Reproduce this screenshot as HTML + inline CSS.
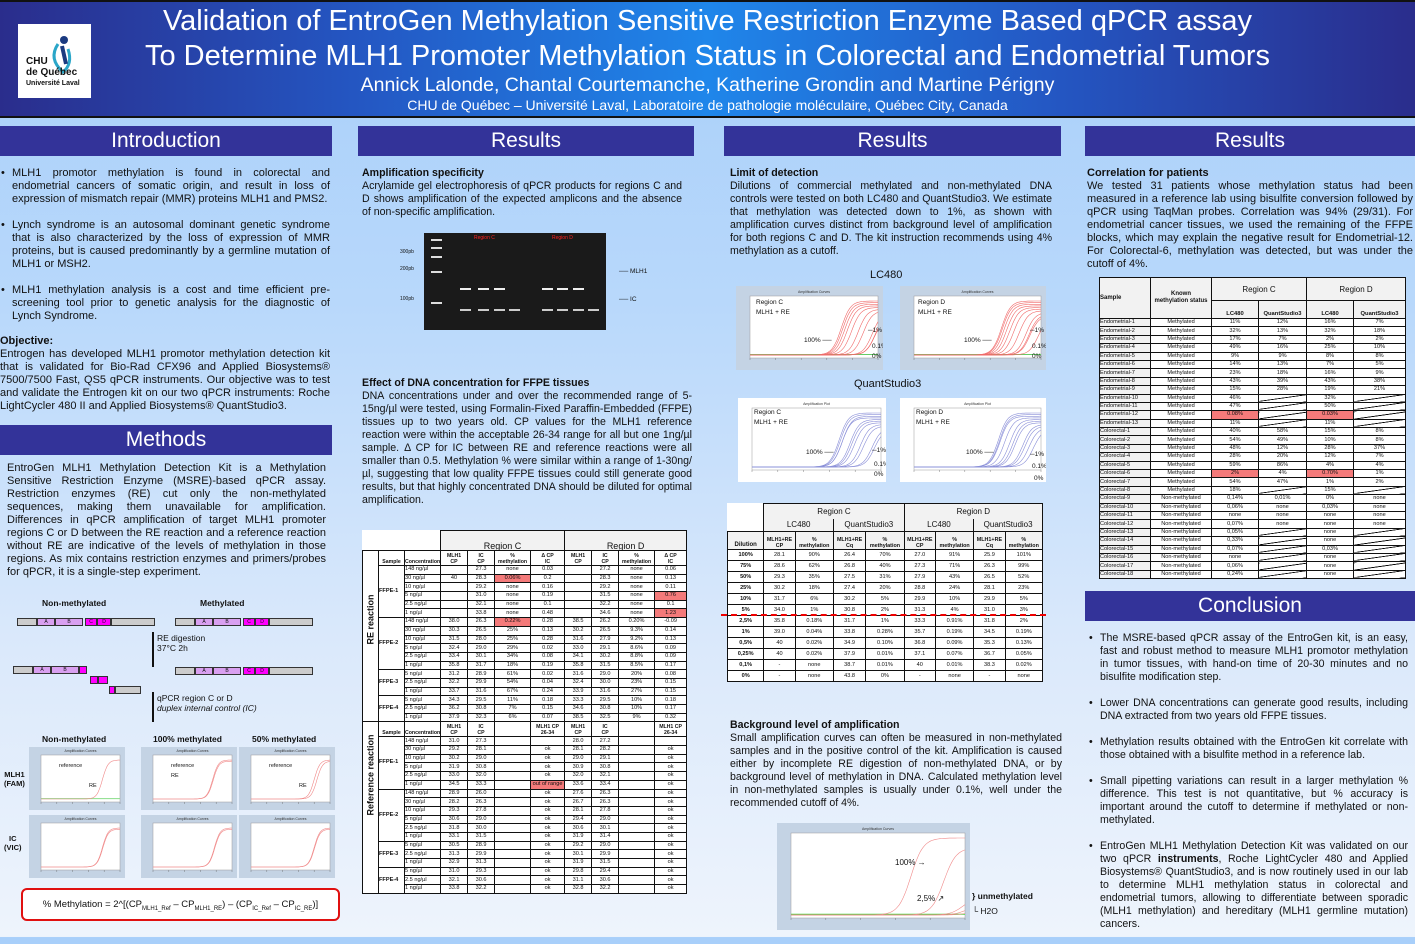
<!DOCTYPE html>
<html><head><meta charset="utf-8">
<style>
*{box-sizing:border-box;margin:0;padding:0}
body{width:1415px;height:937px;overflow:hidden;position:relative;font-family:"Liberation Sans",Arial,sans-serif;background:linear-gradient(180deg,#a8cffa 0px,#b8d8fb 300px,#dbe9fb 650px,#eef4fc 937px);color:#111}
.abs{position:absolute}
#header{left:0;top:0;width:1415px;height:118px;background:linear-gradient(90deg,#2a2d8c 0%,#2456c2 25%,#1f86ea 50%,#2456c2 75%,#2a2d8c 100%);border-bottom:2px solid #111;border-top:2px solid #111}
.ht{position:absolute;left:100px;width:1215px;text-align:center;color:#fff;white-space:nowrap}
.sec{position:absolute;height:30px;background:#333399;color:#fff;font-size:21px;text-align:center;line-height:30px}
.txt{position:absolute;font-size:10.6px;line-height:13px;text-align:justify;color:#111}
.txt p{margin:0}
.bul{position:relative;padding-left:12px;margin-bottom:13px!important}
.bul::before{content:"•";position:absolute;left:1px;top:0}
table{border-collapse:collapse;table-layout:fixed;background:#fff}
td{border:1px solid #111;font-size:5.6px;text-align:center;padding:0;overflow:hidden;white-space:nowrap;line-height:7px}
.red{background:#f47a7a}
.diag{background:linear-gradient(172deg,#fff 46%,#000 48%,#000 52%,#fff 54%)}
.lft{text-align:left}
.frame{position:absolute;background:#c4d3e4}
</style></head><body>

<div id="header" class="abs">
  <div class="abs" style="left:18px;top:22px;width:73px;height:74px;background:#fff">
    <svg width="73" height="74"><path d="M40 20 Q30 35 45 48 Q55 40 50 25" fill="none" stroke="#2aa6c8" stroke-width="3"/><circle cx="46" cy="16" r="4" fill="#1a3a80"/><path d="M44 22 L48 40" stroke="#1a3a80" stroke-width="4"/></svg>
    <div class="abs" style="left:8px;top:32px;font-size:10px;font-weight:bold;line-height:11px;color:#111">CHU<br>de Québec</div>
    <div class="abs" style="left:8px;top:56px;font-size:7px;font-weight:bold;color:#111">Université Laval</div>
  </div>
  <div class="ht" style="top:3px;font-size:29px">Validation of EntroGen Methylation Sensitive Restriction Enzyme Based qPCR assay</div>
  <div class="ht" style="top:38px;font-size:29px">To Determine MLH1 Promoter Methylation Status in Colorectal and Endometrial Tumors</div>
  <div class="ht" style="top:72px;font-size:19.5px">Annick Lalonde, Chantal Courtemanche, Katherine Grondin and Martine Périgny</div>
  <div class="ht" style="top:95px;font-size:14px">CHU de Québec – Université Laval, Laboratoire de pathologie moléculaire, Québec City, Canada</div>
</div>

<!-- Column 1 -->
<div class="sec" style="left:0;top:126px;width:332px">Introduction</div>
<div class="txt" style="left:0;top:167px;width:330px;font-size:11px">
<p class="bul">MLH1 promotor methylation is found in colorectal and endometrial cancers of somatic origin, and result in loss of expression of mismatch repair (MMR) proteins MLH1 and PMS2.</p>
<p class="bul">Lynch syndrome is an autosomal dominant genetic syndrome that is also characterized by the loss of expression of MMR proteins, but is caused predominantly by a germline mutation of MLH1 or MSH2.</p>
<p class="bul">MLH1 methylation analysis is a cost and time efficient pre-screening tool prior to genetic analysis for the diagnostic of Lynch Syndrome.</p>
<p style="font-weight:bold;margin-top:-1px">Objective:</p>
<p>Entrogen has developed MLH1 promotor methylation detection kit that is validated for Bio-Rad CFX96 and Applied Biosystems® 7500/7500 Fast, QS5 qPCR instruments. Our objective was to test and validate the Entrogen kit on our two qPCR instruments: Roche LightCycler 480 II and Applied Biosystems® QuantStudio3.</p>
</div>
<div class="sec" style="left:0;top:425px;width:332px">Methods</div>
<div class="txt" style="left:7px;top:462px;width:319px;font-size:11px">EntroGen MLH1 Methylation Detection Kit is a Methylation Sensitive Restriction Enzyme (MSRE)-based qPCR assay. Restriction enzymes (RE) cut only the non-methylated sequences, making them unavailable for amplification. Differences in qPCR amplification of target MLH1 promoter regions C or D between the RE reaction and a reference reaction without RE are indicative of the levels of methylation in those regions. As mix contains restriction enzymes and primers/probes for qPCR, it is a single-step experiment.</div>

<div id="diagram" class="abs" style="left:0;top:590px;width:350px;height:140px;font-size:8.5px"></div>
<div id="mcharts" class="abs" style="left:0;top:730px;width:350px;height:160px"></div>
<div class="abs" style="left:21px;top:888px;width:319px;height:33px;border:2px solid #e01010;border-radius:6px;background:#fff;font-size:9.5px;line-height:29px;text-align:center">% Methylation = 2^[(CP<sub style="font-size:6px">MLH1_Ref</sub> – CP<sub style="font-size:6px">MLH1_RE</sub>) – (CP<sub style="font-size:6px">IC_Ref</sub> – CP<sub style="font-size:6px">IC_RE</sub>)]</div>

<!-- Column 2 -->
<div class="sec" style="left:358px;top:126px;width:336px">Results</div>
<div class="txt" style="left:362px;top:167px;width:320px"><p style="font-weight:bold">Amplification specificity</p><p>Acrylamide gel electrophoresis of qPCR products for regions C and D shows amplification of the expected amplicons and the absence of non-specific amplification.</p></div>
<div id="gel" class="abs" style="left:400px;top:230px;width:260px;height:100px"></div>
<div class="txt" style="left:362px;top:377px;width:330px"><p style="font-weight:bold">Effect of DNA concentration for FFPE tissues</p><p>DNA concentrations under and over the recommended range of 5-15ng/µl were tested, using Formalin-Fixed Paraffin-Embedded (FFPE) tissues up to two years old. CP values for the MLH1 reference reaction were within the acceptable 26-34 range for all but one 1ng/µl sample. Δ CP for IC between RE and reference reactions were all smaller than 0.5. Methylation % were similar within a range of 1-30ng/µl, suggesting that low quality FFPE tissues could still generate good results, but that highly concentrated DNA should be diluted for optimal amplification.</p></div>
<div id="ffpeTable" class="abs" style="left:362px;top:530px;width:324px"></div>

<!-- Column 3 -->
<div class="sec" style="left:724px;top:126px;width:337px">Results</div>
<div class="txt" style="left:730px;top:167px;width:322px"><p style="font-weight:bold">Limit of detection</p><p>Dilutions of commercial methylated and non-methylated DNA controls were tested on both LC480 and QuantStudio3. We estimate that methylation was detected down to 1%, as shown with amplification curves distinct from background level of amplification for both regions C and D. The kit instruction recommends using 4% methylation as a cutoff.</p></div>
<div class="abs" style="left:870px;top:269px;font-size:11px">LC480</div>
<div class="abs" style="left:854px;top:378px;font-size:11px">QuantStudio3</div>
<div id="lodCharts" class="abs" style="left:0;top:0;width:0;height:0"></div>
<div id="lodTable" class="abs" style="left:727px;top:503px;width:316px"></div>
<div class="txt" style="left:730px;top:719px;width:332px"><p style="font-weight:bold">Background level of amplification</p><p>Small amplification curves can often be measured in non-methylated samples and in the positive control of the kit. Amplification is caused either by incomplete RE digestion of non-methylated DNA, or by background level of methylation in DNA. Calculated methylation level in non-methylated samples is usually under 0.1%, well under the recommended cutoff of 4%.</p></div>

<!-- Column 4 -->
<div class="sec" style="left:1085px;top:126px;width:330px">Results</div>
<div class="txt" style="left:1087px;top:167px;width:326px;font-size:11px"><p style="font-weight:bold">Correlation for patients</p><p>We tested 31 patients whose methylation status had been measured in a reference lab using bisulfite conversion followed by qPCR using TaqMan probes. Correlation was 94% (29/31). For endometrial cancer tissues, we used the remaining of the FFPE blocks, which may explain the negative result for Endometrial-12. For Colorectal-6, methylation was detected, but was under the cutoff of 4%.</p></div>
<div id="patTable" class="abs" style="left:1099px;top:277px;width:306px"></div>
<div class="sec" style="left:1085px;top:591px;width:330px">Conclusion</div>
<div class="txt" style="left:1088px;top:632px;width:320px">
<p class="bul">The MSRE-based qPCR assay of the EntroGen kit, is an easy, fast and robust method to measure MLH1 promotor methylation in tumor tissues, with hand-on time of 20-30 minutes and no bisulfite modification step.</p>
<p class="bul">Lower DNA concentrations can generate good results, including DNA extracted from two years old FFPE tissues.</p>
<p class="bul">Methylation results obtained with the EntroGen kit correlate with those obtained with a bisulfite method in a reference lab.</p>
<p class="bul">Small pipetting variations can result in a larger methylation % difference. This test is not quantitative, but % accuracy is important around the cutoff to determine if methylated or non-methylated.</p>
<p class="bul">EntroGen MLH1 Methylation Detection Kit was validated on our two qPCR <b>instruments</b>, Roche LightCycler 480 and Applied Biosystems® QuantStudio3, and is now routinely used in our lab to determine MLH1 methylation status in colorectal and endometrial tumors, allowing to differentiate between sporadic (MLH1 methylation) and hereditary (MLH1 germline mutation) cancers.</p>
</div>

<script>
// ---------- chart data ----------
const lcC_cp = [28.1,28.6,29.3,30.2,31.7,34.0,35.8,39.0,40,40];
const lcD_cp = [27.0,27.3,27.9,28.8,29.9,31.3,33.3,35.7,36.8,37.1,40];
const qsC_cp = [26.4,26.8,27.5,27.4,30.2,30.8,31.7,33.8,34.9,37.9,38.7];
const qsD_cp = [25.9,26.3,26.5,28.1,29.9,31.0,31.8,34.5,35.3,36.7,38.3];
const bg_cp = [27.0,35.5,40.5,41.5,42.5];
const meth_ref_cp = [31,30,32];
const meth_re_cp = [99,30.3,33.5];
const meth_ic_cp = [31,31,32];

const SVGNS = "http://www.w3.org/2000/svg";
function svgEl(tag, attrs){const e=document.createElementNS(SVGNS,tag);for(const k in attrs)e.setAttribute(k,attrs[k]);return e;}

function ampChart(parent, x, y, w, h, cps, color, opt){
  const frame=document.createElement('div');
  frame.className='frame';
  
  
  frame.style.cssText=`left:${x}px;top:${y}px;width:${w}px;height:${h}px;background:${opt.bg||'#c4d3e4'}`;
  parent.appendChild(frame);
  const svg=svgEl('svg',{width:w,height:h});
  
  
  frame.appendChild(svg);
  const px=opt.pl||14, py=opt.pt||10, pw=w-px-(opt.pr||5), ph=h-py-(opt.pb||12);
  svg.appendChild(svgEl('rect',{x:px,y:py,width:pw,height:ph,fill:'#fff',stroke:'#999','stroke-width':0.5}));
  const t=svgEl('text',{x:px+pw/2,y:py-3,'font-size':3.5,'text-anchor':'middle',fill:'#333'});t.textContent=opt.title||'Amplification Curves';svg.appendChild(t);
  const xs=c=>px+c/45*pw, ys=v=>py+ph-3-v*(ph-8);
  for(let i=0;i<6;i++){svg.appendChild(svgEl('line',{x1:xs(i*9),x2:xs(i*9),y1:py+ph,y2:py+ph+2,stroke:'#666','stroke-width':0.4}));}
  if(opt.base){const b=svgEl('line',{x1:px,x2:px+pw,y1:ys(0.01),y2:ys(0.01),stroke:opt.base,'stroke-width':1});svg.appendChild(b);}
  cps.forEach((cp,i)=>{
    if(cp>=45)return;
    const plat=(opt.plat?opt.plat[i]:1)*(1-i*0.03);
    let d='';
    for(let c=0;c<=45;c+=0.5){const v=plat/(1+Math.exp(-(c-(cp+4))/1.6));d+=(c?'L':'M')+xs(c).toFixed(1)+' '+ys(v).toFixed(1);}
    const p=svgEl('path',{d:d,fill:'none',stroke:color,'stroke-width':0.6});
    
    
    svg.appendChild(p);
  });
  (opt.labels||[]).forEach(l=>{const tt=svgEl('text',{x:l[0],y:l[1],'font-size':l[3]||7,fill:'#111','font-family':'Liberation Sans'});tt.textContent=l[2];svg.appendChild(tt);});
  return frame;
}

const lod=document.getElementById('lodCharts');
const lcLabels=[[20,18,'Region C',6.5],[20,28,'MLH1 + RE',6.5],[68,56,'100% ──',6.5],[132,46,'─1%',6.5],[136,62,'0.1%',6.5],[136,72,'0%',6.5]];
ampChart(lod,736,286,147,84,lcC_cp,'#f06a6a',{name:'lc480-region-c-chart',base:'#6c6',labels:lcLabels});
ampChart(lod,900,286,146,84,lcD_cp,'#f06a6a',{name:'lc480-region-d-chart',base:'#6c6',labels:[[18,18,'Region D',6.5],[18,28,'MLH1 + RE',6.5],[64,56,'100% ──',6.5],[130,46,'─1%',6.5],[132,62,'0.1%',6.5],[132,72,'0%',6.5]]});
ampChart(lod,738,398,148,84,qsC_cp,'#8a8fd8',{name:'qs3-region-c-chart',bg:'#fff',title:'Amplification Plot',labels:[[16,16,'Region C',6.5],[16,26,'MLH1 + RE',6.5],[68,56,'100% ──',6.5],[134,54,'─1%',6.5],[136,68,'0.1%',6.5],[136,78,'0%',6.5]]});
ampChart(lod,900,398,146,84,qsD_cp,'#8a8fd8',{name:'qs3-region-d-chart',bg:'#fff',title:'Amplification Plot',labels:[[16,16,'Region D',6.5],[16,26,'MLH1 + RE',6.5],[66,56,'100% ──',6.5],[130,58,'─1%',6.5],[132,70,'0.1%',6.5],[134,82,'0%',6.5]]});
ampChart(lod,777,823,193,107,bg_cp,'#f08a8a',{name:'background-amplification-chart',base:'#4d4',plat:[1,0.9,0.25,0.15,0.08],labels:[[118,42,'100% →',8],[140,78,'2,5% ↗',8]]});
const ul=document.createElement('div');ul.className='abs';


ul.style.cssText='left:972px;top:891px;font-size:8.5px;font-weight:bold';ul.textContent='} unmethylated';document.body.appendChild(ul);
const h2o=document.createElement('div');h2o.className='abs';


h2o.style.cssText='left:972px;top:906px;font-size:8.5px';h2o.textContent='└ H2O';document.body.appendChild(h2o);

const mc=document.getElementById('mcharts');
[['Non-methylated',42],['100% methylated',153],['50% methylated',252]].forEach(t=>{const d=document.createElement('div');d.className='abs';


d.style.cssText=`left:${t[1]}px;top:4px;font-size:8.5px;font-weight:bold`;d.textContent=t[0];mc.appendChild(d);});
const mx=[29,141,239];
mx.forEach((x,i)=>{
  const cps=meth_re_cp[i]>90?[meth_ref_cp[i]]:[meth_ref_cp[i],meth_re_cp[i]];
  ampChart(mc,x,17,96,63,cps,'#f08a8a',{name:'mlh1-fam-panel',base:i==0?'#8d8':null,pl:12,pt:8,pb:8,labels:[[30,20,'reference',5.5],[i==1?30:60,i==1?30:40,'RE',5.5]]});
  ampChart(mc,x,85,96,63,[meth_ic_cp[i],meth_ic_cp[i]+0.2],'#f08a8a',{name:'ic-vic-panel',pl:12,pt:8,pb:8});
});
[['MLH1<br>(FAM)',4,40],['IC<br>(VIC)',4,104]].forEach(t=>{const d=document.createElement('div');d.className='abs';


d.style.cssText=`left:${t[1]}px;top:${t[2]}px;font-size:7.5px;font-weight:bold;text-align:center`;d.innerHTML=t[0];mc.appendChild(d);});

const dg=document.getElementById('diagram');
function bar(x,y,segs){segs.forEach(s=>{const b=document.createElement('div');b.className='abs';


b.style.cssText=`left:${x+s[0]}px;top:${y}px;width:${s[1]}px;height:8px;background:${s[2]};border:1px solid #333;font-size:5px;text-align:center;line-height:6px`;b.textContent=s[3]||'';dg.appendChild(b);});}
dg.innerHTML='<div class="abs" style="left:42px;top:8px;font-weight:bold">Non-methylated</div><div class="abs" style="left:200px;top:8px;font-weight:bold">Methylated</div><div class="abs" style="left:157px;top:43px">RE digestion<br>37°C 2h</div><div class="abs" style="left:157px;top:103px">qPCR region C or D<br><i>duplex internal control (IC)</i></div>';
const full=[[0,20,'#ccc'],[20,18,'#d9a0f0','A'],[38,28,'#d9a0f0','B'],[68,12,'#f0f','C'],[80,14,'#f0f','D'],[94,44,'#ccc']];
bar(17,28,full);bar(175,28,full);bar(175,77,full);
bar(13,76,[[0,20,'#ccc'],[20,18,'#d9a0f0','A'],[38,28,'#d9a0f0','B'],[66,8,'#f0f']]);
bar(90,86,[[0,8,'#f0f'],[8,10,'#f0f']]);bar(109,96,[[0,6,'#f0f'],[6,26,'#ccc']]);
[[152,42,35],[152,102,30]].forEach(a=>{const d=document.createElement('div');d.className='abs';


d.style.cssText=`left:${a[0]}px;top:${a[1]}px;width:2px;height:${a[2]}px;background:#111`;dg.appendChild(d);});

const gel=document.getElementById('gel');
gel.innerHTML='<div class="abs" style="left:24px;top:3px;width:182px;height:97px;background:#1a1a1a"></div>'+
'<div class="abs" style="left:0;top:19px;font-size:5px">300pb</div><div class="abs" style="left:0;top:36px;font-size:5px">200pb</div><div class="abs" style="left:0;top:66px;font-size:5px">100pb</div>'+
'<div class="abs" style="left:74px;top:5px;font-size:5px;color:#f22">Region C</div><div class="abs" style="left:152px;top:5px;font-size:5px;color:#f22">Region D</div>'+
'<div class="abs" style="left:219px;top:38px;font-size:6.5px">── MLH1</div><div class="abs" style="left:219px;top:66px;font-size:6.5px">── IC</div>';
const gelLanes=[[100,1,1],[118,1,1],[134,1,1],[149,0,1],[182,1,1],[197,1,1],[213,1,1],[228,0,1]];
[[45,6],[45,14],[45,23],[45,38],[45,69]].forEach(b=>{const d=document.createElement('div');d.className='abs';


d.style.cssText=`left:${b[0]-14}px;top:${b[1]+3}px;width:11px;height:2px;background:#ddd`;gel.appendChild(d);});
gelLanes.forEach(l=>{
  if(l[1]){const d=document.createElement('div');d.className='abs';
  
  
  d.style.cssText=`left:${l[0]-40}px;top:58px;width:11px;height:2px;background:#eee`;gel.appendChild(d);}
  const e=document.createElement('div');e.className='abs';
  
  
  e.style.cssText=`left:${l[0]-40}px;top:79px;width:11px;height:2px;background:#ccc`;gel.appendChild(e);
});

const ffpeRE=[
['FFPE-1','148 ng/µl','','27.3','none','0.03','','27.2','none','0.06'],
['','30 ng/µl','40','28.3','0.06%*','0.2','','28.3','none','0.13'],
['','10 ng/µl','','29.2','none','0.16','','29.2','none','0.11'],
['','5 ng/µl','','31.0','none','0.19','','31.5','none','0.76*'],
['','2.5 ng/µl','','32.1','none','0.1','','32.2','none','0.1'],
['','1 ng/µl','','33.8','none','0.48','','34.6','none','1.23*'],
['FFPE-2','148 ng/µl','38.0','26.3','0.22%*','0.28','38.5','26.2','0.20%','-0.09'],
['','30 ng/µl','30.3','26.5','25%','0.13','30.2','26.5','9.3%','0.14'],
['','10 ng/µl','31.5','28.0','25%','0.28','31.6','27.9','9.2%','0.13'],
['','5 ng/µl','32.4','29.0','29%','0.02','33.0','29.1','8.6%','0.09'],
['','2.5 ng/µl','33.4','30.1','34%','0.08','34.1','30.2','8.8%','0.09'],
['','1 ng/µl','35.8','31.7','18%','0.19','35.8','31.5','8.5%','0.17'],
['FFPE-3','5 ng/µl','31.2','28.9','61%','0.02','31.6','29.0','20%','0.08'],
['','2.5 ng/µl','32.2','29.9','54%','0.04','32.4','30.0','23%','0.15'],
['','1 ng/µl','33.7','31.6','67%','0.24','33.9','31.6','27%','0.15'],
['FFPE-4','5 ng/µl','34.3','29.5','11%','0.18','33.3','29.5','10%','0.18'],
['','2.5 ng/µl','36.2','30.8','7%','0.15','34.6','30.8','10%','0.17'],
['','1 ng/µl','37.9','32.3','6%','0.07','38.5','32.5','9%','0.32']];
const ffpeRef=[
['FFPE-1','148 ng/µl','31.0','27.3','','','28.0','27.2','',''],
['','30 ng/µl','29.2','28.1','','ok','28.1','28.2','','ok'],
['','10 ng/µl','30.2','29.0','','ok','29.0','29.1','','ok'],
['','5 ng/µl','31.9','30.8','','ok','30.9','30.8','','ok'],
['','2.5 ng/µl','33.0','32.0','','ok','32.0','32.1','','ok'],
['','1 ng/µl','34.5','33.3','','out of range*','33.6','33.4','','ok'],
['FFPE-2','148 ng/µl','28.9','26.0','','ok','27.6','26.3','','ok'],
['','30 ng/µl','28.2','26.3','','ok','26.7','26.3','','ok'],
['','10 ng/µl','29.3','27.8','','ok','28.1','27.8','','ok'],
['','5 ng/µl','30.6','29.0','','ok','29.4','29.0','','ok'],
['','2.5 ng/µl','31.8','30.0','','ok','30.6','30.1','','ok'],
['','1 ng/µl','33.1','31.5','','ok','31.9','31.4','','ok'],
['FFPE-3','5 ng/µl','30.5','28.9','','ok','29.2','29.0','','ok'],
['','2.5 ng/µl','31.3','29.9','','ok','30.1','29.9','','ok'],
['','1 ng/µl','32.9','31.3','','ok','31.9','31.5','','ok'],
['FFPE-4','5 ng/µl','31.0','29.3','','ok','29.8','29.4','','ok'],
['','2.5 ng/µl','32.1','30.6','','ok','31.1','30.6','','ok'],
['','1 ng/µl','33.8','32.2','','ok','32.8','32.2','','ok']];
const groupSizes=[6,6,3,3];

function cell(tr,txt,opts){
  const td=document.createElement('td');
  
  
  let t=String(txt);
  if(t.endsWith('*')){td.className='red';t=t.slice(0,-1);}
  if(t==='X'){td.className='diag';t='';}
  td.innerHTML=t;
  if(opts){for(const k in opts){if(k==='style')td.style.cssText=opts[k];else td.setAttribute(k,opts[k]);}}
  tr.appendChild(td);return td;
}
function buildFfpe(){
  const tb=document.createElement('table');
  
  
  tb.style.width='324px';
  const cg=document.createElement('colgroup');
  [16,26,36,27,27,36,34,27,27,36,32].forEach(w=>{const c=document.createElement('col');c.style.width=w+'px';cg.appendChild(c);});
  tb.appendChild(cg);
  let tr=document.createElement('tr');tr.style.height='20px';
  cell(tr,'',{colspan:3,style:'border:none;background:transparent'});
  cell(tr,'Region C',{colspan:4,style:'font-size:9px;vertical-align:bottom;background:#f2f2f2'});
  cell(tr,'Region D',{colspan:4,style:'font-size:9px;vertical-align:bottom;background:#f2f2f2'});
  tb.appendChild(tr);
  function section(rows,label,vlabel){
    const r=document.createElement('tr');r.style.height='15px';
    const hdr=['Sample','Concentration','MLH1<br>CP','IC<br>CP',label?'%<br>methylation':'',label?'Δ CP<br>IC':'MLH1 CP<br>26-34','MLH1<br>CP','IC<br>CP',label?'%<br>methylation':'',label?'Δ CP<br>IC':'MLH1 CP<br>26-34'];
    cell(r,'<div style="transform:rotate(-90deg);white-space:nowrap;font-size:9px;font-weight:bold;width:16px;position:relative;top:0">'+vlabel+'</div>',{rowspan:rows.length+1,style:'vertical-align:middle;background:#fff'});
    hdr.forEach(h=>cell(r,h,{style:'font-weight:bold;font-size:5.2px;line-height:6px;vertical-align:bottom'}));
    tb.appendChild(r);
    let gi=0,cnt=0;
    rows.forEach((row,i)=>{
      const tr=document.createElement('tr');tr.style.height='8.7px';
      
      
      row.forEach((c,j)=>{
        if(j===0){if(cnt===0){cell(tr,row[0],{rowspan:groupSizes[gi],style:'text-align:left;font-weight:bold'});}}
        else cell(tr,c,j===1?{class:'lft'}:null);
      });
      cnt++;if(cnt===groupSizes[gi]){cnt=0;gi++;}
      tb.appendChild(tr);
    });
  }
  section(ffpeRE,true,'RE reaction');
  section(ffpeRef,false,'Reference reaction');
  document.getElementById('ffpeTable').appendChild(tb);
}
buildFfpe();

const lodDil=['100%','75%','50%','25%','10%','5%','2,5%','1%','0,5%','0,25%','0,1%','0%'];
const lodCcp=['28.1','28.6','29.3','30.2','31.7','34.0','35.8','39.0','40','40','-','-'];
const lodCpct=['90%','62%','35%','18%','6%','1%','0.18%','0.04%','0.02%','0.02%','none','none'];
const lodCcq=['26.4','26.8','27.5','27.4','30.2','30.8','31.7','33.8','34.9','37.9','38.7','43.8'];
const lodCqpct=['70%','40%','31%','20%','5%','2%','1%','0.28%','0.10%','0.01%','0.01%','0%'];
const lodDcp=['27.0','27.3','27.9','28.8','29.9','31.3','33.3','35.7','36.8','37.1','40','-'];
const lodDpct=['91%','71%','43%','24%','10%','4%','0.91%','0.19%','0.09%','0.07%','0.01%','none'];
const lodDcq=['25.9','26.3','26.5','28.1','29.9','31.0','31.8','34.5','35.3','36.7','38.3','-'];
const lodDqpct=['101%','99%','52%','23%','5%','3%','2%','0.19%','0.13%','0.05%','0.02%','none'];
(function(){
  const tb=document.createElement('table');
  
  
  tb.style.width='316px';
  const cg=document.createElement('colgroup');
  [36,31,38,32,38,31,38,31,37].forEach(w=>{const c=document.createElement('col');c.style.width=w+'px';cg.appendChild(c);});tb.appendChild(cg);
  let tr=document.createElement('tr');tr.style.height='15px';
  cell(tr,'',{style:'border:none;background:transparent'});
  cell(tr,'Region C',{colspan:4,style:'font-size:8px;background:#f2f2f2;border-bottom:none'});cell(tr,'Region D',{colspan:4,style:'font-size:8px;background:#f2f2f2;border-bottom:none'});tb.appendChild(tr);
  tr=document.createElement('tr');tr.style.height='13px';
  cell(tr,'',{style:'border:none;background:transparent'});
  ['LC480','QuantStudio3','LC480','QuantStudio3'].forEach(t=>cell(tr,t,{colspan:2,style:'font-size:8px;background:#f2f2f2;border-top:none;border-bottom:none'}));tb.appendChild(tr);
  tr=document.createElement('tr');tr.style.height='18px';
  cell(tr,'Dilution',{style:'font-weight:bold;font-size:6px;vertical-align:bottom;background:#f2f2f2'});
  ['MLH1+RE<br>CP','%<br>methylation','MLH1+RE<br>Cq','%<br>methylation','MLH1+RE<br>CP','%<br>methylation','MLH1+RE<br>Cq','%<br>methylation'].forEach(t=>cell(tr,t,{style:'font-weight:bold;font-size:5.4px;line-height:6px;vertical-align:bottom;background:#f2f2f2'}));tb.appendChild(tr);
  lodDil.forEach((d,i)=>{
    const r=document.createElement('tr');r.style.height='11px';
    
    
    cell(r,d,{style:'font-weight:bold'});
    [lodCcp,lodCpct,lodCcq,lodCqpct,lodDcp,lodDpct,lodDcq,lodDqpct].forEach(a=>cell(r,a[i]));
    tb.appendChild(r);
  });
  document.getElementById('lodTable').appendChild(tb);
  const dl=document.createElement('div');dl.className='abs';
  
  
  dl.style.cssText='left:721px;top:614px;width:325px;border-top:2px dashed #e00';document.body.appendChild(dl);
})();

const patNames=['Endometrial-1','Endometrial-2','Endometrial-3','Endometrial-4','Endometrial-5','Endometrial-6','Endometrial-7','Endometrial-8','Endometrial-9','Endometrial-10','Endometrial-11','Endometrial-12','Endometrial-13','Colorectal-1','Colorectal-2','Colorectal-3','Colorectal-4','Colorectal-5','Colorectal-6','Colorectal-7','Colorectal-8','Colorectal-9','Colorectal-10','Colorectal-11','Colorectal-12','Colorectal-13','Colorectal-14','Colorectal-15','Colorectal-16','Colorectal-17','Colorectal-18'];
const patStatus=Array(21).fill('Methylated').concat(Array(10).fill('Non-methylated'));
const patClc=['11%','32%','17%','49%','9%','14%','23%','43%','15%','46%','47%','0.08%*','11%','40%','54%','48%','28%','59%','2%*','54%','18%','0,14%','0,06%','none','0,07%','0,05%','0,33%','0,07%','none','0,06%','0,24%'];
const patCqs=['12%','13%','7%','16%','9%','13%','18%','39%','28%','X','X','X','X','58%','49%','12%','20%','86%','4%','47%','X','0,01%','none','none','none','X','X','X','X','X','X'];
const patDlc=['16%','32%','2%','25%','8%','7%','16%','43%','19%','32%','50%','0.03%*','11%','15%','10%','28%','12%','4%','0.70%*','1%','15%','0%','0,03%','none','none','none','none','0,03%','none','none','none'];
const patDqs=['7%','18%','2%','10%','8%','5%','9%','38%','21%','X','X','X','X','8%','8%','37%','7%','4%','1%','2%','X','none','none','none','none','X','X','X','X','X','X'];
(function(){
  const tb=document.createElement('table');
  
  
  tb.style.width='306px';
  const cg=document.createElement('colgroup');
  [51,61,47,48,47,52].forEach(w=>{const c=document.createElement('col');c.style.width=w+'px';cg.appendChild(c);});tb.appendChild(cg);
  let tr=document.createElement('tr');tr.style.height='23px';
  cell(tr,'Sample',{rowspan:2,style:'font-weight:bold;text-align:left;background:#f2f2f2;font-size:6px'});
  cell(tr,'Known<br>methylation status',{rowspan:2,style:'font-weight:bold;background:#f2f2f2;font-size:6px'});
  cell(tr,'Region C',{colspan:2,style:'font-size:8px;background:#f2f2f2'});cell(tr,'Region D',{colspan:2,style:'font-size:8px;background:#f2f2f2'});tb.appendChild(tr);
  tr=document.createElement('tr');tr.style.height='18px';
  ['LC480','QuantStudio3','LC480','QuantStudio3'].forEach(t=>cell(tr,t,{style:'font-weight:bold;vertical-align:bottom;background:#f2f2f2;font-size:5.8px'}));tb.appendChild(tr);
  patNames.forEach((n,i)=>{
    const r=document.createElement('tr');r.style.height='8.4px';
    
    
    cell(r,n,{class:'lft',style:'background:#f2f2f2'});cell(r,patStatus[i]);
    [patClc,patCqs,patDlc,patDqs].forEach(a=>cell(r,a[i]));
    tb.appendChild(r);
  });
  document.getElementById('patTable').appendChild(tb);
})();
</script>
</body></html>
